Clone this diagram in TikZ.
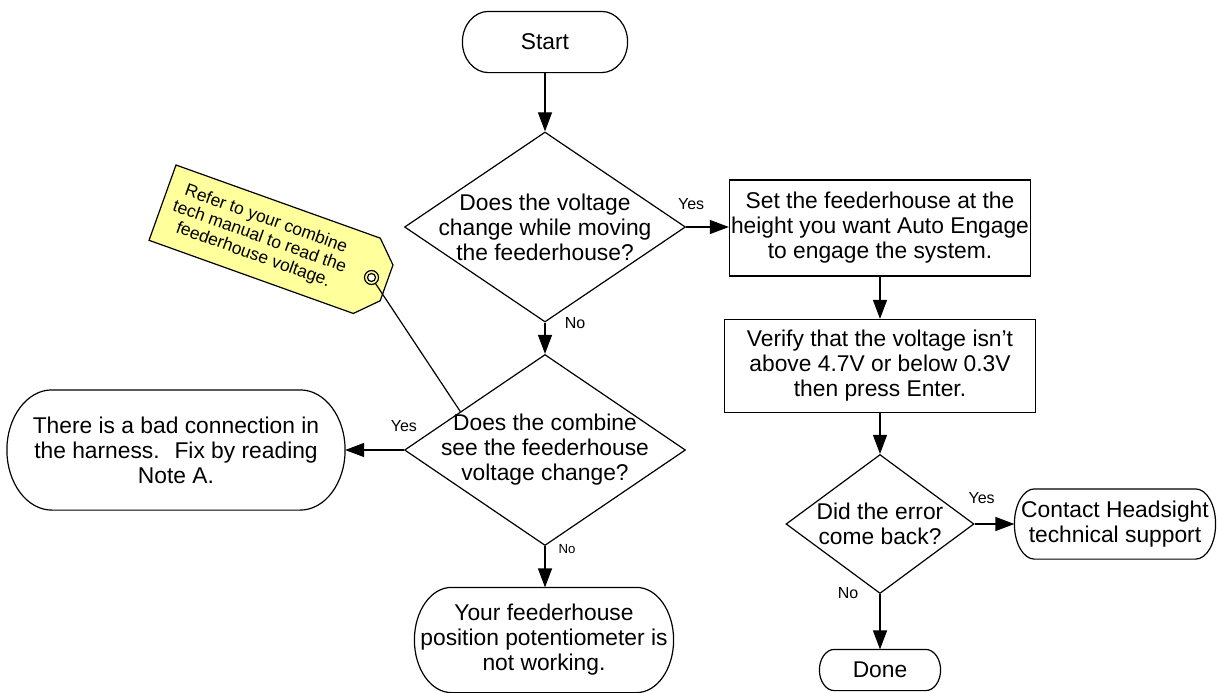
\documentclass[tikz,border=0pt]{standalone}
\usepackage{fontspec}
\setmainfont{Liberation Sans}
\usetikzlibrary{arrows.meta,calc,shapes.geometric}
\definecolor{tagyellow}{RGB}{255,255,156}
\tikzset{
	base/.style={draw, line width=0.6pt, font=\fontsize{11.4}{12.5}\selectfont, align=center, inner sep=0pt},
	terminal/.style={base, draw=none, rectangle},
	process/.style={base, rectangle},
	decision/.style={base, diamond},
	lbl/.style={font=\fontsize{8}{9}\selectfont, inner sep=0pt},
	flow/.style={-{Triangle[length=9.5pt, width=7pt]}, line width=0.6pt}
}
% outline of a terminal node: flat top and bottom, elliptic ends
\newcommand{\termoutline}[2]{%
	\draw [line width=0.6pt] let \p1 = ($(#1.north)-(#1.center)$) in
		($(#1.north west)+(#2,0)$) -- ($(#1.north east)-(#2,0)$)
		arc [start angle=90, end angle=-90, x radius=#2, y radius=\y1]
		-- ($(#1.south west)+(#2,0)$)
		arc [start angle=270, end angle=90, x radius=#2, y radius=\y1] -- cycle;
}

\begin{document}
\begin{tikzpicture}[x=0.5pt, y=-0.5pt]
	\useasboundingbox (0,0) rectangle (1217,692);

	% middle column
	\node [terminal, minimum width=82pt, minimum height=30pt] (start) at (545,42) {Start};
	\node [decision, minimum width=140.5pt, minimum height=95pt] (q1) at (545,227) {};
	\node [base, draw=none] (q1txt) at (q1) {Does the voltage\\change while moving\\the feederhouse?};
	\node [decision, minimum width=140.5pt, minimum height=95.5pt] (q2) at (545,450) {};
	\node [base, draw=none] (q2txt) at (q2) {Does the combine\\see the feederhouse\\voltage change?};
	\node [terminal, minimum width=129pt, minimum height=52pt] (broken) at (544,640) {Your feederhouse\\position potentiometer is\\not working.};
	\node [terminal, minimum width=168.5pt, minimum height=59.5pt] (harness) at (176,450) {There is a bad connection in\\the harness.~ Fix by reading\\Note A.};

	% right column
	\node [process, minimum width=150.5pt, minimum height=48pt] (setheight) at (880,228) {Set the feederhouse at the\\height you want Auto Engage\\to engage the system.};
	\node [process, minimum width=155.5pt, minimum height=46.5pt] (verify) at (880,366) {Verify that the voltage isn’t\\above 4.7V or below 0.3V\\then press Enter.};
	\node [decision, minimum width=94pt, minimum height=69.5pt] (q3) at (880,524) {};
	\node [base, draw=none] (q3txt) at (q3) {Did the error\\come back?};
	\node [terminal, minimum width=100pt, minimum height=34.5pt] (support) at (1115,524) {Contact Headsight\\technical support};
	\node [terminal, minimum width=60pt, minimum height=20pt] (done) at (880,670) {Done};

	\termoutline{start}{13pt}
	\termoutline{broken}{18.5pt}
	\termoutline{harness}{22.5pt}
	\termoutline{support}{10pt}
	\termoutline{done}{7.5pt}

	% connectors
	\draw [flow] (start) -- (q1);
	\draw [flow] (q1.east) -- (setheight.west |- q1.east);
	\draw [flow] (q1) -- (q2);
	\draw [flow] (q2) -- (harness);
	\draw [flow] (q2) -- (broken.north -| q2.south);
	\draw [flow] (setheight) -- (verify);
	\draw [flow] (verify) -- (q3);
	\draw [flow] (q3) -- (support);
	\draw [flow] (q3) -- (done);

	% yes / no
	\node [lbl] (yes1) at ($(q1.east)+(5,-23)$) {Yes};
	\node [lbl] (no1) at ($(q1.south)+(30,0)$) {No};
	\node [lbl] (yes2) at ($(q2.west)+(0,-24)$) {Yes};
	\node [lbl, font=\fontsize{6.6}{8}\selectfont] (no2) at ($(q2.south)+(22,3)$) {No};
	\node [lbl] (yes3) at ($(q3.east)+(7,-26)$) {Yes};
	\node [lbl] (no3) at ($(q3.south)+(-32,-1)$) {No};

	% note tag
	\begin{scope}[shift={(176,165)}, rotate=-19.7]
		\filldraw [fill=tagyellow, line width=0.6pt] (0,0) -- (217,0) -- (238,21) -- (238,59) -- (217,80) -- (0,80) -- cycle;
		\node [rotate=-19.7, font=\fontsize{8.7}{9.5}\selectfont, align=center, inner sep=0pt] (note) at (103,40) {Refer to your combine\\tech manual to read the\\feederhouse voltage.};
		\coordinate (hole) at (222,40);
	\end{scope}
	\draw [line width=0.6pt] (hole) -- ($(q2.north)!0.6!(q2.west)$);
	\filldraw [fill=tagyellow, line width=0.6pt] (hole) circle (3.5pt);
	\filldraw [fill=white, line width=0.6pt] (hole) circle (2pt);
\end{tikzpicture}
\end{document}
